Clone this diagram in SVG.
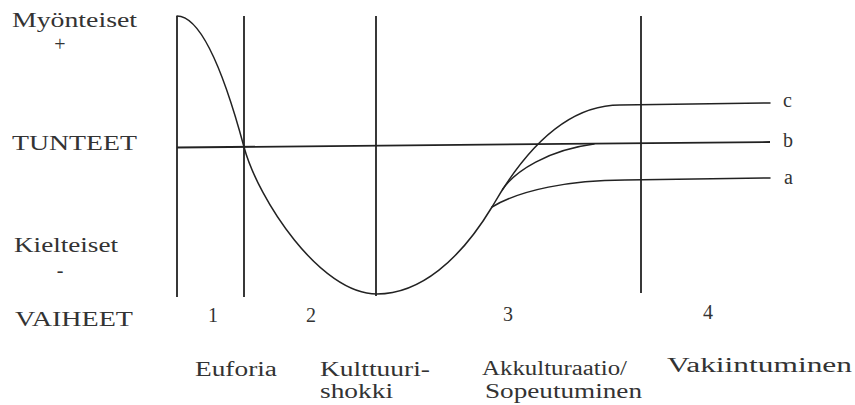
<svg xmlns="http://www.w3.org/2000/svg" width="855" height="405" viewBox="0 0 855 405">
<style>
text{font-family:"Liberation Serif","Times New Roman","DejaVu Serif",serif;fill:#333;}
.lbl{font-size:20px;}
.num{font-size:20px;text-anchor:middle;}
.ln{stroke:#222;stroke-width:1.8;fill:none;}
.cv{stroke:#222;stroke-width:1.5;fill:none;stroke-linecap:round;}
</style>
<rect width="855" height="405" fill="#fff"/>
<g id="axes">
<line class="ln" x1="177" y1="16" x2="177" y2="297"/>
<line class="ln" x1="244" y1="16" x2="244" y2="297"/>
<line class="ln" x1="376" y1="16" x2="376" y2="296"/>
<line class="ln" x1="641" y1="16" x2="641" y2="293"/>
<line class="ln" x1="177" y1="147.5" x2="770" y2="142" stroke-width="2.2"/>
</g>
<g id="curves">
<path class="cv" d="M177,16 C205,16 230,95 244,147 C258,199 320,294 377,294 C420,294 460,260 492,207 C512,172 555,105 620,105 L770,103"/>
<path class="cv" d="M502.5,189.4 C515,171 548,150 594,144"/>
<path class="cv" d="M492,207 C520,190 570,180 625,180 L770,178"/>
</g>
<g id="y-labels">
<text class="lbl" x="12" y="27" textLength="125" lengthAdjust="spacingAndGlyphs">Myönteiset</text>
<text class="lbl" x="60" y="51" text-anchor="middle">+</text>
<text class="lbl" x="12" y="150" textLength="125" lengthAdjust="spacingAndGlyphs">TUNTEET</text>
<text class="lbl" x="14" y="252" textLength="104" lengthAdjust="spacingAndGlyphs">Kielteiset</text>
<text class="lbl" x="60" y="277" text-anchor="middle">-</text>
<text class="lbl" x="15" y="326" textLength="118" lengthAdjust="spacingAndGlyphs">VAIHEET</text>
</g>
<g id="curve-labels">
<text class="lbl" x="783" y="107">c</text>
<text class="lbl" x="783" y="147">b</text>
<text class="lbl" x="784" y="184">a</text>
</g>
<g id="phases">
<text class="num" x="213" y="322">1</text>
<text class="num" x="311" y="322">2</text>
<text class="num" x="508" y="321">3</text>
<text class="num" x="708" y="319">4</text>
<text class="lbl" x="195" y="376" textLength="82" lengthAdjust="spacingAndGlyphs">Euforia</text>
<text class="lbl" x="320" y="376" textLength="110" lengthAdjust="spacingAndGlyphs">Kulttuuri-</text>
<text class="lbl" x="320" y="398" textLength="73" lengthAdjust="spacingAndGlyphs">shokki</text>
<text class="lbl" x="482" y="375" textLength="145" lengthAdjust="spacingAndGlyphs">Akkulturaatio/</text>
<text class="lbl" x="485" y="398" textLength="157" lengthAdjust="spacingAndGlyphs">Sopeutuminen</text>
<text class="lbl" x="667" y="372" textLength="185" lengthAdjust="spacingAndGlyphs">Vakiintuminen</text>
</g>
</svg>
